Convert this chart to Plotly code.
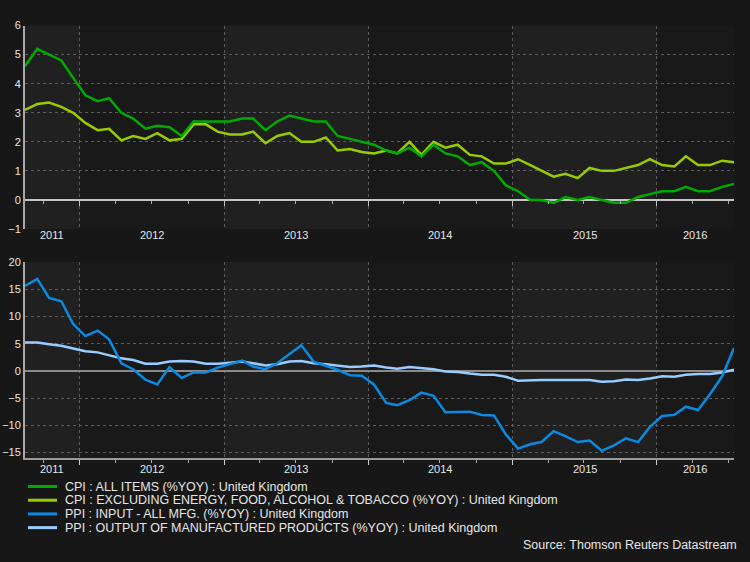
import plotly.graph_objects as go
import pandas as pd

# ---------------- data ----------------
dates = list(pd.date_range("2011-08-01", periods=60, freq="MS") + pd.Timedelta(days=14))

cpi_all = [4.6, 5.2, 5.0, 4.8, 4.2, 3.6, 3.4, 3.5, 3.0, 2.8,
           2.45, 2.55, 2.5, 2.2, 2.7, 2.7, 2.7, 2.7, 2.8, 2.8,
           2.4, 2.7, 2.9, 2.8, 2.7, 2.7, 2.2, 2.1, 2.0, 1.9,
           1.7, 1.6, 1.8, 1.5, 1.9, 1.6, 1.5, 1.2, 1.3, 1.0,
           0.5, 0.3, 0.0, 0.0, -0.1, 0.1, 0.0, 0.1, 0.0, -0.1,
           -0.1, 0.1, 0.2, 0.3, 0.3, 0.45, 0.3, 0.3, 0.45, 0.55]

cpi_core = [3.1, 3.3, 3.35, 3.2, 3.0, 2.65, 2.4, 2.45, 2.05, 2.2,
            2.1, 2.3, 2.05, 2.1, 2.6, 2.6, 2.35, 2.25, 2.25, 2.35,
            1.95, 2.2, 2.3, 2.0, 2.0, 2.15, 1.7, 1.75, 1.65, 1.6,
            1.7, 1.6, 2.0, 1.55, 2.0, 1.8, 1.9, 1.55, 1.5, 1.25,
            1.25, 1.4, 1.2, 1.0, 0.8, 0.9, 0.75, 1.1, 1.0, 1.0,
            1.1, 1.2, 1.4, 1.2, 1.15, 1.5, 1.2, 1.2, 1.35, 1.3]

ppi_input = [15.6, 16.9, 13.4, 12.8, 8.6, 6.4, 7.4, 5.8, 1.4, 0.3,
             -1.6, -2.5, 0.7, -1.3, -0.3, -0.3, 0.6, 1.3, 1.9, 0.8,
             0.3, 1.4, 3.0, 4.7, 1.7, 1.0, 0.2, -0.8, -0.9, -2.5,
             -5.9, -6.3, -5.4, -4.0, -4.6, -7.6, -7.6, -7.5, -8.1, -8.2,
             -11.7, -14.3, -13.5, -13.1, -11.1, -12.0, -13.1, -12.8, -14.7, -13.7,
             -12.4, -13.1, -10.3, -8.3, -8.1, -6.6, -7.2, -4.3, -1.0, 4.2]

ppi_output = [5.2, 5.2, 4.9, 4.6, 4.1, 3.6, 3.4, 2.9, 2.3, 2.0,
              1.3, 1.3, 1.7, 1.8, 1.7, 1.3, 1.3, 1.5, 1.7, 1.4,
              1.0, 1.2, 1.7, 1.8, 1.4, 1.2, 1.0, 0.7, 0.8, 1.0,
              0.6, 0.4, 0.7, 0.5, 0.3, -0.1, -0.2, -0.5, -0.7, -0.7,
              -1.1, -1.8, -1.7, -1.7, -1.7, -1.7, -1.6, -1.7, -2.0, -1.9,
              -1.6, -1.7, -1.4, -1.0, -1.1, -0.7, -0.6, -0.6, -0.3, 0.2]

names = ["CPI : ALL ITEMS (%YOY) : United Kingdom",
         "CPI : EXCLUDING ENERGY, FOOD, ALCOHOL & TOBACCO (%YOY) : United Kingdom",
         "PPI : INPUT - ALL MFG. (%YOY) : United Kingdom",
         "PPI : OUTPUT OF MANUFACTURED PRODUCTS (%YOY) : United Kingdom"]
colors = ["#00aa00", "#99cc00", "#0a8ae0", "#99ccff"]

years = [2011, 2012, 2013, 2014, 2015, 2016]
top_yticks = [-1, 0, 1, 2, 3, 4, 5, 6]
bot_yticks = [-15, -10, -5, 0, 5, 10, 15, 20]
source = "Source: Thomson Reuters Datastream"

# ---------------- layout helpers ----------------
W, H = 750, 562
x_dom = [25 / W, 734 / W]
top_dom = [1 - 228 / H, 1 - 20 / H]
bot_dom = [1 - 461.7 / H, 1 - 261.7 / H]
top_range = [-1.005, 6]
bot_range = [-16, 20]
x_start, x_end = dates[0], dates[-1]
zero_pos = top_dom[0] + (0 - top_range[0]) / (top_range[1] - top_range[0]) * (top_dom[1] - top_dom[0])

year_bounds = [pd.Timestamp(f"{y}-01-01") for y in years[1:]]
quarters = [d for d in pd.date_range("2011-01-01", "2016-12-31", freq="QS") if x_start <= d <= x_end]
label_pos = []
for y in years:
    a = max(x_start, pd.Timestamp(f"{y}-01-01"))
    b = min(x_end, pd.Timestamp(f"{y + 1}-01-01"))
    label_pos.append(a + (b - a) / 2)

font = "Liberation Sans, Arial, sans-serif"
grid_col = "#5c5c5c"
txt_col = "#e6e6e6"
page_bg = "#171717"

fig = go.Figure()
# top panel (yellow under green)
fig.add_trace(go.Scatter(x=dates, y=cpi_core, mode="lines", line=dict(color=colors[1], width=2.5),
                         name=names[1], xaxis="x", yaxis="y", showlegend=False))
fig.add_trace(go.Scatter(x=dates, y=cpi_all, mode="lines", line=dict(color=colors[0], width=2.5),
                         name=names[0], xaxis="x", yaxis="y", showlegend=False))
# bottom panel
fig.add_trace(go.Scatter(x=dates, y=ppi_output, mode="lines", line=dict(color=colors[3], width=2.5),
                         name=names[3], xaxis="x2", yaxis="y2", showlegend=False))
fig.add_trace(go.Scatter(x=dates, y=ppi_input, mode="lines", line=dict(color=colors[2], width=2.5),
                         name=names[2], xaxis="x2", yaxis="y2", showlegend=False))

shapes = []
# alternating year shading
for i, y in enumerate(years):
    if y % 2 == 1:
        a = max(x_start, pd.Timestamp(f"{y}-01-01"))
        b = min(x_end, pd.Timestamp(f"{y + 1}-01-01"))
        for xr, yr in (("x", "y domain"), ("x2", "y2 domain")):
            shapes.append(dict(type="rect", xref=xr, yref=yr, x0=a, x1=b, y0=0, y1=1,
                               fillcolor="#202020", line=dict(width=0), layer="below"))

annotations = []
for y, p in zip(years, label_pos):
    annotations.append(dict(x=p, xref="x", y=1 - 234 / H, yref="paper", text=str(y), showarrow=False,
                            font=dict(family=font, size=11, color=txt_col), xanchor="center", yanchor="middle"))
    annotations.append(dict(x=p, xref="x2", y=1 - 473 / H, yref="paper", text=str(y), showarrow=False,
                            font=dict(family=font, size=11, color=txt_col), xanchor="center", yanchor="middle"))

# legend (custom, compact rows)
for k, (n, c) in enumerate(zip(names, colors)):
    yy = 1 - (491 + 14 * k) / H
    shapes.append(dict(type="line", xref="paper", yref="paper", x0=28 / W, x1=57 / W, y0=yy, y1=yy,
                       line=dict(color=c, width=3)))
    annotations.append(dict(x=63 / W, y=yy, xref="paper", yref="paper", text=n, showarrow=False,
                            xanchor="left", yanchor="middle",
                            font=dict(family=font, size=12.5, color=txt_col)))
annotations.append(dict(x=739 / W, y=1 - 551 / H, xref="paper", yref="paper", text=source, showarrow=False,
                        xanchor="right", yanchor="middle", font=dict(family=font, size=12.5, color=txt_col)))

common_x = dict(type="date", range=[x_start, x_end], domain=x_dom, showticklabels=False,
                tickmode="array", tickvals=year_bounds, ticks="outside", ticklen=5, tickwidth=1,
                showgrid=True, gridcolor=grid_col, griddash="dot", gridwidth=1,
                minor=dict(tickmode="array", tickvals=quarters, ticks="outside", ticklen=3,
                           tickcolor="#aaaaaa", showgrid=False),
                zeroline=False)

fig.update_layout(
    width=W, height=H,
    margin=dict(l=0, r=0, t=0, b=0),
    paper_bgcolor=page_bg, plot_bgcolor="#191919",
    font=dict(family=font, size=11, color=txt_col),
    xaxis=dict(common_x, anchor="free", position=zero_pos, showline=False, tickcolor="#c4c4c4"),
    xaxis2=dict(common_x, anchor="y2", showline=True, linewidth=2, linecolor="#9a9a9a", tickcolor="#cccccc"),
    yaxis=dict(domain=top_dom, range=top_range, tickmode="array", tickvals=top_yticks,
               showgrid=True, gridcolor=grid_col, griddash="dot",
               zeroline=True, zerolinecolor="#c4c4c4", zerolinewidth=2,
               showline=True, linecolor="#a8a8a8", linewidth=2, ticks="", anchor="x",
               tickfont=dict(size=11, color=txt_col)),
    yaxis2=dict(domain=bot_dom, range=bot_range, tickmode="array", tickvals=bot_yticks,
                showgrid=True, gridcolor=grid_col, griddash="dot", zeroline=True,
                zerolinecolor="#8a8a8a", zerolinewidth=2,
                showline=True, linecolor="#a8a8a8", linewidth=2, ticks="", anchor="x2",
                tickfont=dict(size=11, color=txt_col)),
    shapes=shapes, annotations=annotations,
    showlegend=False,
)

fig.write_html("out.html", config={"displayModeBar": False},
               post_script="document.body.style.margin='0';document.body.style.background='%s';"
                           "document.body.style.overflow='hidden';" % page_bg)
